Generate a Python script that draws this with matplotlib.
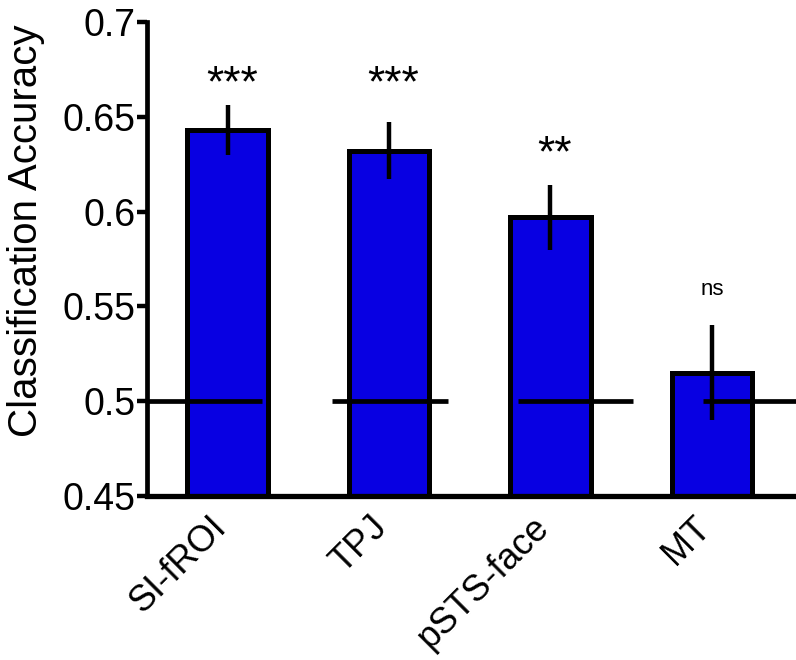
import numpy as np
import matplotlib
matplotlib.use('Agg')
import matplotlib.pyplot as plt
import matplotlib.transforms as mtransforms

plt.rcParams['font.family'] = ['Liberation Sans', 'DejaVu Sans']

# data
regions = ['SI-fROI', 'TPJ', 'pSTS-face', 'MT']
accuracy = [0.643, 0.632, 0.597, 0.515]
sem = [0.013, 0.015, 0.017, 0.025]
signif = ['***', '***', '**', 'ns']
chance = 0.5

fig = plt.figure(figsize=(7.96, 6.60), dpi=100)
ax = fig.add_axes([0.1847, 0.2485, 0.815, 0.7182])

x = np.arange(len(regions))
ax.bar(x, accuracy, width=0.5, color='#0800E2', edgecolor='black',
       linewidth=3.6, zorder=2)
ax.errorbar(x, accuracy, yerr=sem, fmt='none', ecolor='black',
            elinewidth=3.2, capsize=0, zorder=3)

# chance level segments (drawn per bar, shifted like in the original)
for i in range(len(regions)):
    x0 = -0.5 + 1.149 * i
    ax.plot([x0, x0 + 0.714], [chance, chance], color='black', lw=3.4,
            solid_capstyle='butt', zorder=4, clip_on=True)

# significance labels
star_y = [0.672, 0.672, 0.635, 0.559]
for i, s in enumerate(signif):
    if s == 'ns':
        ax.text(x[i], star_y[i], s, ha='center', va='center', fontsize=16)
    else:
        ax.text(x[i] + 0.025, star_y[i] - 0.005, s, ha='center', va='center',
                fontsize=32)

ax.set_xlim(-0.5, 3.52)
ax.set_ylim(0.45, 0.7)
ax.set_yticks([0.45, 0.5, 0.55, 0.6, 0.65, 0.7])
ax.set_yticklabels(['0.45', '0.5', '0.55', '0.6', '0.65', '0.7'], fontsize=27)
ax.set_xticks(x)
ax.set_xticklabels([])

# rotated category labels
lab_tr = mtransforms.offset_copy(ax.get_xaxis_transform(), fig=fig,
                                 x=-14, y=-10, units='points')
for i, name in enumerate(regions):
    ax.text(x[i], 0, name, transform=lab_tr, fontsize=26, rotation=45,
            ha='right', va='top', rotation_mode='anchor', clip_on=False)

ax.tick_params(axis='x', length=0)
ax.tick_params(axis='y', length=7, width=3.2, pad=1)
ax.set_ylabel('Classification Accuracy', fontsize=29)
ax.yaxis.set_label_coords(-0.158, 0.559)

for side in ['top', 'right']:
    ax.spines[side].set_visible(False)
ax.spines['left'].set_linewidth(3.4)
ax.spines['bottom'].set_linewidth(3.8)

fig.savefig('out.png', dpi=100)
